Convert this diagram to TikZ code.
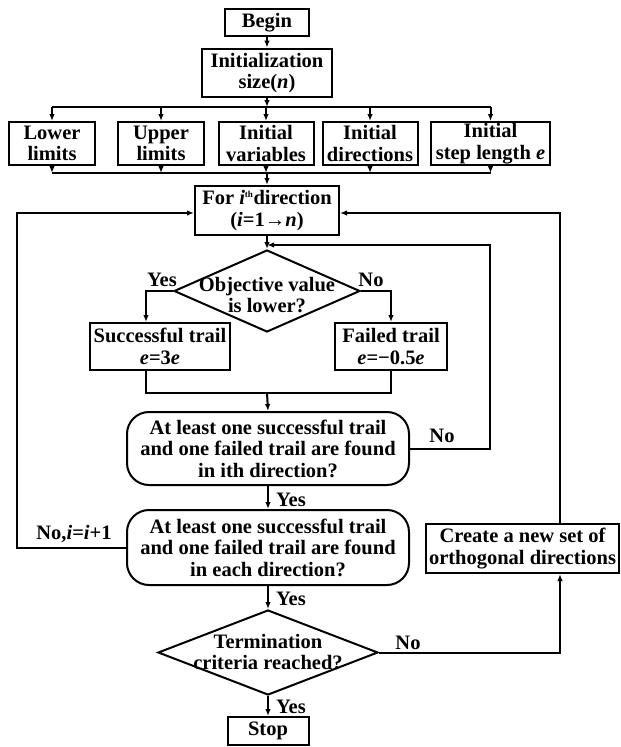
\documentclass[tikz,border=0pt]{standalone}
\usepackage{fontspec}
\setmainfont{Liberation Serif}
\usetikzlibrary{shapes.geometric,arrows.meta}
\begin{document}
\begin{tikzpicture}[x=1pt,y=-1pt,
  every node/.style={font=\bfseries\fontsize{20.5}{21.5}\selectfont, inner sep=0pt, align=center},
  box/.style={draw, line width=2pt, rectangle},
  rbox/.style={draw, line width=2pt, rectangle, rounded corners=22pt},
  dia/.style={draw, line width=2pt, diamond},
  conn/.style={line width=2pt},
  arr/.style={conn, -{Latex[length=7pt,width=5.5pt]}},
]
\useasboundingbox (0,0) rectangle (621,747);
% top
\node[box, minimum width=84pt, minimum height=27pt] (begin) at (267,22.5) {Begin};
\node[box, line width=2.8pt, minimum width=130pt, minimum height=48pt] (init) at (267,73) {Initialization\\size(\textit{n})};
% row of boxes
\node[box, minimum width=86pt, minimum height=43pt] (ll) at (52,143.5) {Lower\\limits};
\node[box, minimum width=86pt, minimum height=43pt] (ul) at (161,143.5) {Upper\\limits};
\node[box, minimum width=95pt, minimum height=43pt] (iv) at (266,143.5) {Initial\\variables};
\node[box, minimum width=95pt, minimum height=43pt] (id) at (370,143.5) {Initial\\directions};
\node[box, minimum width=119pt, minimum height=43pt] (is) at (490.5,143.5) {Initial\\step length \textit{e}};
% main loop
\node[box, minimum width=144pt, minimum height=49pt] (for) at (267,210.5) {For \textit{i}\textsuperscript{\fontsize{9}{9}\selectfont th}direction\\(\textit{i}=1→\textit{n})};
\node[dia, minimum width=186pt, minimum height=82pt] (d1) at (267,291) {};
\node (d1t) at (267,295) {Objective value\\is lower?};
\node[box, minimum width=140pt, minimum height=47pt] (succ) at (160,346.5) {Successful trail\\\textit{e}=3\textit{e}};
\node[box, minimum width=112pt, minimum height=47pt] (fail) at (391,346.5) {Failed trail\\\textit{e}=−0.5\textit{e}};
\node[rbox, minimum width=282pt, minimum height=73pt] (rb1) at (268,448.5) {At least one successful trail\\and one failed trail are found\\in ith direction?};
\node[rbox, minimum width=282pt, minimum height=75pt] (rb2) at (268,547.5) {At least one successful trail\\and one failed trail are found\\in each direction?};
\node[dia, minimum width=220pt, minimum height=85pt] (d2) at (268,652.5) {};
\node (d2t) at (268,652) {Termination\\criteria reached?};
\node[box, minimum width=81pt, minimum height=28pt] (stop) at (268,731) {Stop};
\node[box, minimum width=193pt, minimum height=49pt] (create) at (522.5,548.5) {Create a new set of\\orthogonal directions};
% labels
\node (yes1) at (162,280) {Yes};
\node (no1) at (371,280) {No};
\node (no2) at (442,436) {No};
\node (yes2) at (291,500) {Yes};
\node (noi) at (74,534) {No,\textit{i}=\textit{i}+1};
\node (yes3) at (291,599) {Yes};
\node (no3) at (408,643) {No};
\node (yes4) at (291,707) {Yes};
% coordinates
\coordinate (b1) at (267,107);
\coordinate (b2) at (267,173);
\coordinate (sx) at (146,346);
\coordinate (j) at (267,393);
\coordinate (inR) at (490,245);
\coordinate (lx) at (17,213);
\coordinate (rx) at (560,213);
% connectors top
\draw[arr] (begin) -- (init);
\draw[arr] (init.south) -- (b1);
\draw[conn] (ll.north |- b1) -- (is.north |- b1);
\foreach \n in {ll,ul,iv,id,is} {\draw[arr] (\n.north |- b1) -- (\n.north);}
\foreach \n in {ll,ul,iv,id,is} {\draw[arr] (\n.south) -- (\n.south |- b2);}
\draw[conn] (ll.south |- b2) -- (is.south |- b2);
\draw[arr] (b2) -- (for.north);
% main
\draw[arr] (for.south) -- (d1.north);
\draw[arr] (d1.west) -| (succ.north -| sx);
\draw[arr] (d1.east) -| (fail.north);
\draw[conn] (succ.south -| sx) |- (fail.south |- j) -- (fail.south);
\draw[arr] (j) -- (rb1.north);
\draw[arr] (rb1.east) -| (inR) -- (d1.north |- inR);
\draw[arr] (rb1.south) -- (rb2.north);
\draw[arr] (rb2.west) -| (lx) -- (for.west |- lx);
\draw[arr] (rb2.south) -- (d2.north);
\draw[arr] (d2.south) -- (stop.north);
\draw[arr] (d2.east) -| (create.south -| rx);
\draw[arr] (create.north -| rx) -- (rx) -- (for.east |- rx);
\end{tikzpicture}
\end{document}
